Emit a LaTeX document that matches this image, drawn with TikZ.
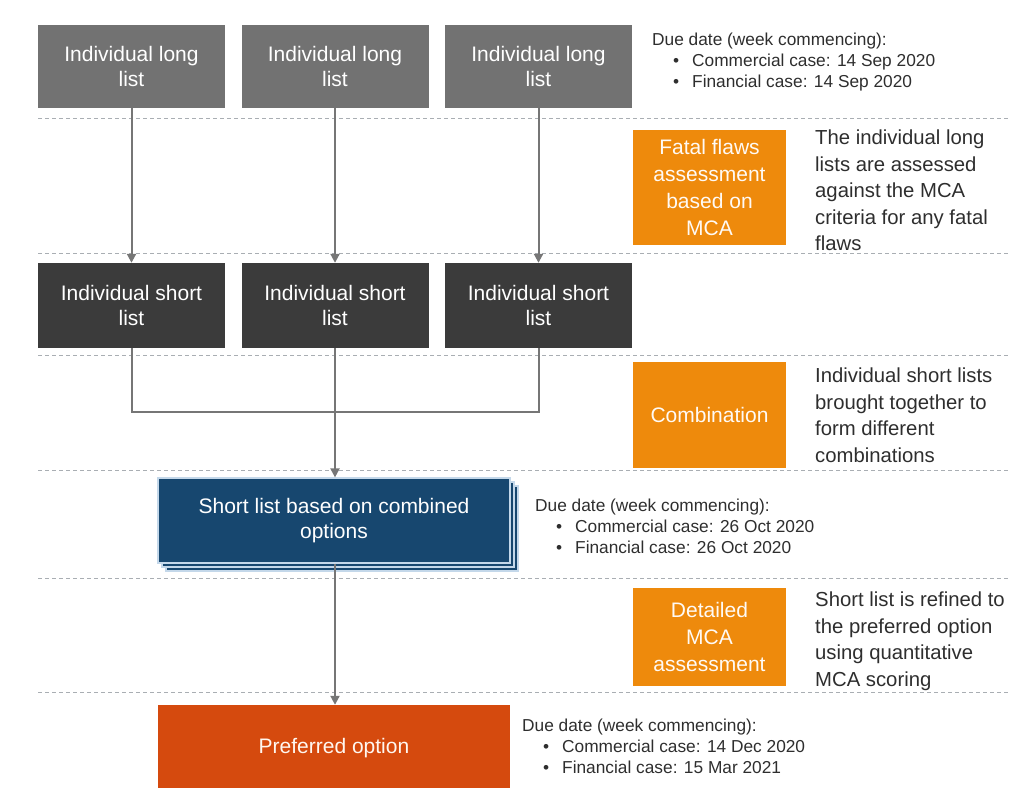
\documentclass[tikz,border=0pt]{standalone}
\usepackage{fontspec}
\setmainfont{Liberation Sans}
\usetikzlibrary{arrows.meta}
\definecolor{longgray}{HTML}{727272}
\definecolor{shortgray}{HTML}{3B3B3B}
\definecolor{stepor}{HTML}{EE8A0C}
\definecolor{prefor}{HTML}{D54A0E}
\definecolor{navy}{HTML}{17476F}
\definecolor{navyedge}{HTML}{C4D8EA}
\definecolor{linegray}{HTML}{767676}
\definecolor{sepgray}{HTML}{A9AEB3}
\definecolor{bodytext}{HTML}{2E2E2E}
\begin{document}
\begin{tikzpicture}[x=1pt,y=-1pt,
  boxtxt/.style={font=\fontsize{21}{25}\selectfont, text=white, align=center, inner sep=0pt},
  longbox/.style={boxtxt, fill=longgray, minimum width=187pt, minimum height=83pt},
  shortbox/.style={boxtxt, fill=shortgray, minimum width=187pt, minimum height=85pt},
  stepbox/.style={font=\fontsize{21}{27}\selectfont, text=white!96!orange, align=center, inner sep=0pt, fill=stepor, minimum width=153pt},
  note/.style={font=\fontsize{20.3}{26.5}\selectfont, text=bodytext, align=left, inner sep=0pt, anchor=north west},
  due/.style={font=\fontsize{17.3}{21}\selectfont, text=bodytext, align=left, inner sep=0pt, anchor=north west},
  sep/.style={sepgray, line width=1pt, dash pattern=on 4pt off 3pt},
  conn/.style={linegray, line width=2pt},
  arr/.style={conn, -{Triangle[width=9pt,length=9pt]}},
  layer/.style={fill=navy, draw=navyedge, line width=1.2pt}
]
\useasboundingbox (0,0) rectangle (1014,787);
\newcommand{\bul}{\hspace*{21pt}\makebox[19pt][l]{\textbullet}}

% stage separators
\foreach \y in {118,253,355,470,578,692}
  \draw[sep] (38,\y) -- (1010,\y);

% long lists
\node[longbox] (long1) at (131.5,66.5) {Individual long\\list};
\node[longbox] (long2) at (335,66.5) {Individual long\\list};
\node[longbox] (long3) at (538.5,66.5) {Individual long\\list};

% short lists
\node[shortbox] (short1) at (131.5,305.5) {Individual short\\list};
\node[shortbox] (short2) at (335,305.5) {Individual short\\list};
\node[shortbox] (short3) at (538.5,305.5) {Individual short\\list};

% process steps
\node[stepbox, minimum height=115pt] (fatal) at (709.5,187.5) {Fatal flaws\\assessment\\based on\\MCA};
\node[stepbox, minimum height=106pt] (combo) at (709.5,415) {Combination};
\node[stepbox, minimum height=98pt] (detail) at (709.5,637) {Detailed\\MCA\\assessment};

% descriptions
\node[note] (fataltxt) at (815,130) {The individual long\\lists are assessed\\against the MCA\\criteria for any fatal\\flaws};
\node[note] (combotxt) at (815,368) {Individual short lists\\brought together to\\form different\\combinations};
\node[note] (detailtxt) at (815,592) {Short list is refined to\\the preferred option\\using quantitative\\MCA scoring};

% combined short list (stacked)
\fill[layer] (166,486) rectangle (518,571);
\fill[layer] (162,482) rectangle (514,567);
\node[boxtxt, layer, minimum width=352pt, minimum height=85pt] (stack) at (334,520.5) {Short list based on combined\\options};

% preferred option
\node[boxtxt, fill=prefor, text=white!94!orange, minimum width=352pt, minimum height=86pt] (pref) at (334,748) {Preferred option};

% due dates
\node[due] (due1) at (652,33) {Due date (week commencing):\\\bul Commercial case: 14 Sep 2020\\\bul Financial case: 14 Sep 2020};
\node[due] (due2) at (535,499) {Due date (week commencing):\\\bul Commercial case: 26 Oct 2020\\\bul Financial case: 26 Oct 2020};
\node[due] (due3) at (522,719) {Due date (week commencing):\\\bul Commercial case: 14 Dec 2020\\\bul Financial case: 15 Mar 2021};

% connectors
\draw[arr] (long1) -- (short1);
\draw[arr] (long2) -- (short2);
\draw[arr] (long3) -- (short3);
\coordinate (join) at (335,412);
\draw[conn] (short1.south) |- (join);
\draw[conn] (short3.south) |- (join);
\draw[arr] (short2.south) -- (short2.south |- stack.north);
\draw[arr] (stack.south -| short2.south) -- (pref.north -| short2.south);
\end{tikzpicture}
\end{document}
